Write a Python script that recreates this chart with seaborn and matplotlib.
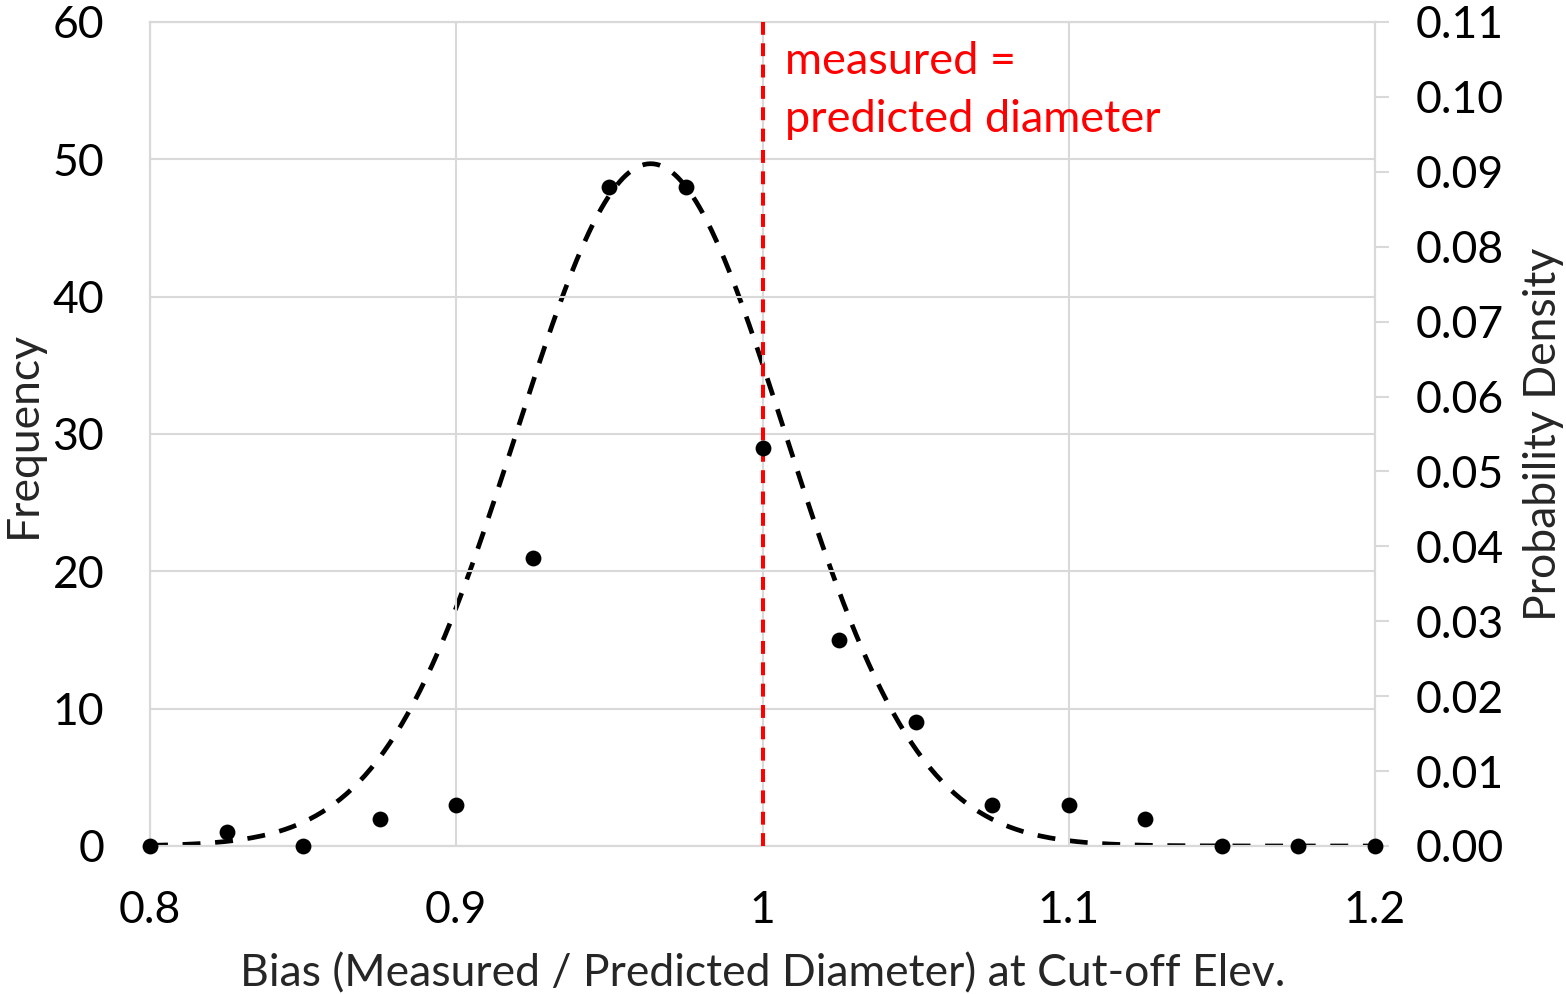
import numpy as np
import pandas as pd
import matplotlib
matplotlib.use("Agg")
import matplotlib.pyplot as plt
import seaborn as sns

# ---- data ----
bias = [0.8, 0.825, 0.85, 0.875, 0.9, 0.925, 0.95, 0.975, 1.0, 1.025,
        1.05, 1.075, 1.1, 1.125, 1.15, 1.175, 1.2]
frequency = [0, 1, 0, 2, 3, 21, 48, 48, 29, 15, 9, 3, 3, 2, 0, 0, 0]
fit_mean = 0.9635
fit_sd = 0.0438
fit_scale = 0.01
x_ticks = [0.8, 0.9, 1.0, 1.1, 1.2]
x_tick_labels = ["0.8", "0.9", "1", "1.1", "1.2"]
freq_ticks = [0, 10, 20, 30, 40, 50, 60]
dens_ticks = [0.00, 0.01, 0.02, 0.03, 0.04, 0.05, 0.06, 0.07, 0.08, 0.09, 0.10, 0.11]

curve_x = np.linspace(0.8, 1.2, 400)
curve_y = fit_scale * np.exp(-(curve_x - fit_mean) ** 2 / (2 * fit_sd ** 2)) / (fit_sd * np.sqrt(2 * np.pi))
df_pts = pd.DataFrame({"bias": bias, "freq": frequency})
df_curve = pd.DataFrame({"x": curve_x, "density": curve_y})

sns.set_theme(style="white")
plt.rcParams["font.family"] = ["Lato", "DejaVu Sans"]

fig = plt.figure(figsize=(15.66, 9.94), dpi=100)
ax = fig.add_axes([150 / 1566, 1 - 846 / 994, (1375 - 150) / 1566, (846 - 22) / 994])
ax2 = ax.twinx()

grid_c = "#d9d9d9"
fs = 32

ax.set_xlim(0.8, 1.2)
ax.set_ylim(0, 60)
ax2.set_ylim(0, 0.11)
ax.set_xticks(x_ticks)
ax.set_xticklabels(x_tick_labels, fontsize=fs)
ax.set_yticks(freq_ticks)
ax.set_yticklabels([str(t) for t in freq_ticks], fontsize=fs)
ax2.set_yticks(dens_ticks)
ax2.set_yticklabels([f"{t:.2f}" for t in dens_ticks], fontsize=fs)
ax.grid(True, color=grid_c, linewidth=1.5)
ax.set_axisbelow(True)

for a in (ax, ax2):
    for s in a.spines.values():
        s.set_color(grid_c)
        s.set_linewidth(1.5)

ax.tick_params(axis="y", length=0, pad=33, colors="black", labelsize=fs)
ax.tick_params(axis="x", length=0, pad=32, colors="black", labelsize=fs)
ax2.tick_params(axis="y", length=10, width=1.5, color=grid_c, pad=19, labelcolor="black", labelsize=fs, direction="out")

# red reference line
ax.axvline(1.0, color="#ff0000", linewidth=2.9, linestyle=(0, (3.2, 2.1)), zorder=3)

sns.lineplot(data=df_curve, x="x", y="density", ax=ax2, color="black",
             linewidth=3.4, linestyle=(0, (3.8, 3.1)), zorder=4)
ax2.set_ylabel("")
ax2.set_xlabel("")

sns.scatterplot(data=df_pts, x="bias", y="freq", ax=ax, color="black", s=130,
                edgecolor="black", linewidth=0, zorder=5, clip_on=False)

ax.set_zorder(ax2.get_zorder() + 1)
ax.patch.set_visible(False)

ax.set_xlabel("Bias (Measured / Predicted Diameter) at Cut-off Elev.", fontsize=fs, labelpad=16)
ax.set_ylabel("Frequency", fontsize=fs, labelpad=6)
ax2.set_ylabel("Probability Density", fontsize=fs, labelpad=14)

ax.text(1.0075, 58.6, "measured =\npredicted diameter", color="#ff0000", fontsize=fs + 0.5,
        va="top", ha="left", linespacing=1.5)

fig.savefig("out.png", dpi=100)
